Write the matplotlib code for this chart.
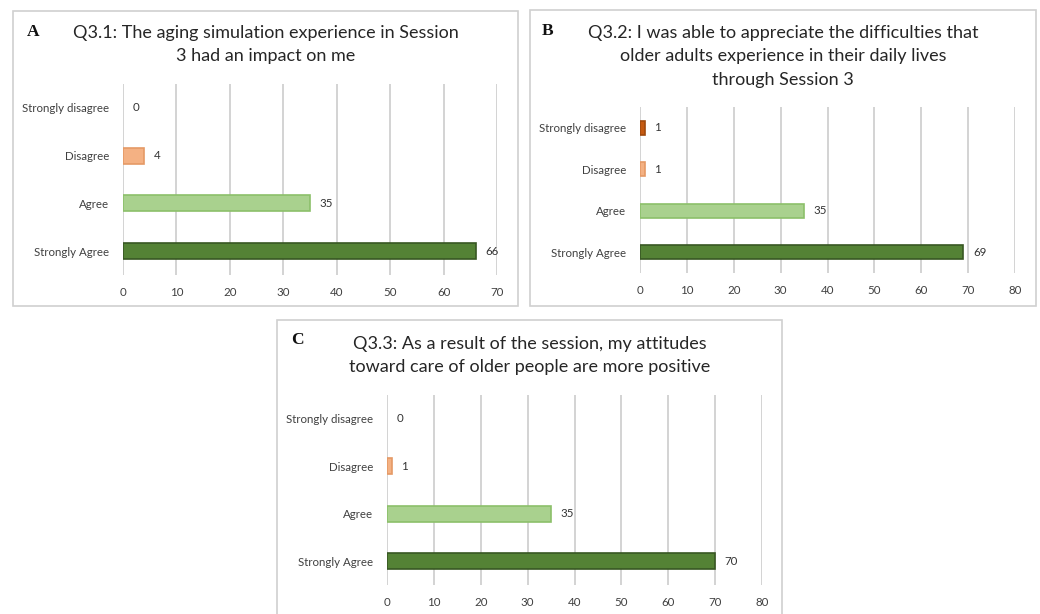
import matplotlib
matplotlib.use("Agg")
import matplotlib.pyplot as plt
from matplotlib.patches import Rectangle

plt.rcParams['font.family'] = ['Lato', 'DejaVu Sans']

categories = ["Strongly Agree", "Agree", "Disagree", "Strongly disagree"]

q31_values = [66, 35, 4, 0]
q32_values = [69, 35, 1, 1]
q33_values = [70, 35, 1, 0]

q31_title = "Q3.1: The aging simulation experience in Session\n3 had an impact on me"
q32_title = ("Q3.2: I was able to appreciate the difficulties that\n"
             "older adults experience in their daily lives\nthrough Session 3")
q33_title = ("Q3.3: As a result of the session, my attitudes\n"
             "toward care of older people are more positive")

q31_ticks = [0, 10, 20, 30, 40, 50, 60, 70]
q32_ticks = [0, 10, 20, 30, 40, 50, 60, 70, 80]
q33_ticks = [0, 10, 20, 30, 40, 50, 60, 70, 80]

fills = ["#548235", "#A9D18E", "#F4B183", "#C55A11"]
edges = ["#385723", "#8CC06A", "#E59A66", "#A04A0E"]

W, H = 1040, 614
fig = plt.figure(figsize=(W / 100, H / 100), dpi=100)


def px_rect(x0, y0, x1, y1):
    return [x0 / W, 1 - y1 / H, (x1 - x0) / W, (y1 - y0) / H]


def panel(frame, axbox, letter, letter_xy, title, title_xy, values, ticks):
    fx0, fy0, fx1, fy1 = frame
    fig.patches.append(Rectangle((fx0 / W, 1 - fy1 / H), (fx1 - fx0) / W, (fy1 - fy0) / H,
                                 transform=fig.transFigure, fill=False,
                                 edgecolor="#D0D0D0", linewidth=1.2))
    fig.text(letter_xy[0] / W, 1 - letter_xy[1] / H, letter, family="Liberation Serif",
             fontweight="bold", fontsize=12.5, ha="left", va="center", color="#111111")
    fig.text(title_xy[0] / W, 1 - title_xy[1] / H, title, ha="center", va="top",
             fontsize=13, color="#262626", linespacing=1.56)

    ax = fig.add_axes(px_rect(*axbox))
    y = list(range(len(categories)))
    widths = [1.2 if v > 0 else 0 for v in values]
    ax.barh(y, values, height=0.34, color=fills, edgecolor=edges, linewidth=widths, zorder=3)
    for yi, v in zip(y, values):
        ax.annotate(str(v), (v, yi), xytext=(7, 0), textcoords="offset points",
                    ha="left", va="center", fontsize=8.3, color="#333333")
    ax.set_xlim(ticks[0], ticks[-1])
    ax.set_ylim(-0.5, len(categories) - 0.5)
    ax.set_xticks(ticks)
    ax.set_yticks(y)
    ax.set_yticklabels(categories)
    ax.tick_params(axis="both", length=0, labelsize=8.3, colors="#404040")
    ax.tick_params(axis="x", pad=9)
    ax.tick_params(axis="y", pad=10)
    ax.grid(axis="x", color="#D0D0D0", linewidth=1.3, zorder=0)
    ax.set_axisbelow(True)
    for s in ax.spines.values():
        s.set_visible(False)
    return ax


panel((13, 11, 518, 306), (123, 84, 497, 275), "A", (27, 32), q31_title, (266, 25),
      q31_values, q31_ticks)
panel((530, 10, 1036, 306), (640, 107, 1015, 273), "B", (542, 31), q32_title, (783, 25),
      q32_values, q32_ticks)
panel((277, 320, 782, 640), (387, 395, 762, 585), "C", (291, 340), q33_title, (530, 336),
      q33_values, q33_ticks)

fig.savefig("out.png", dpi=100, facecolor="white")
